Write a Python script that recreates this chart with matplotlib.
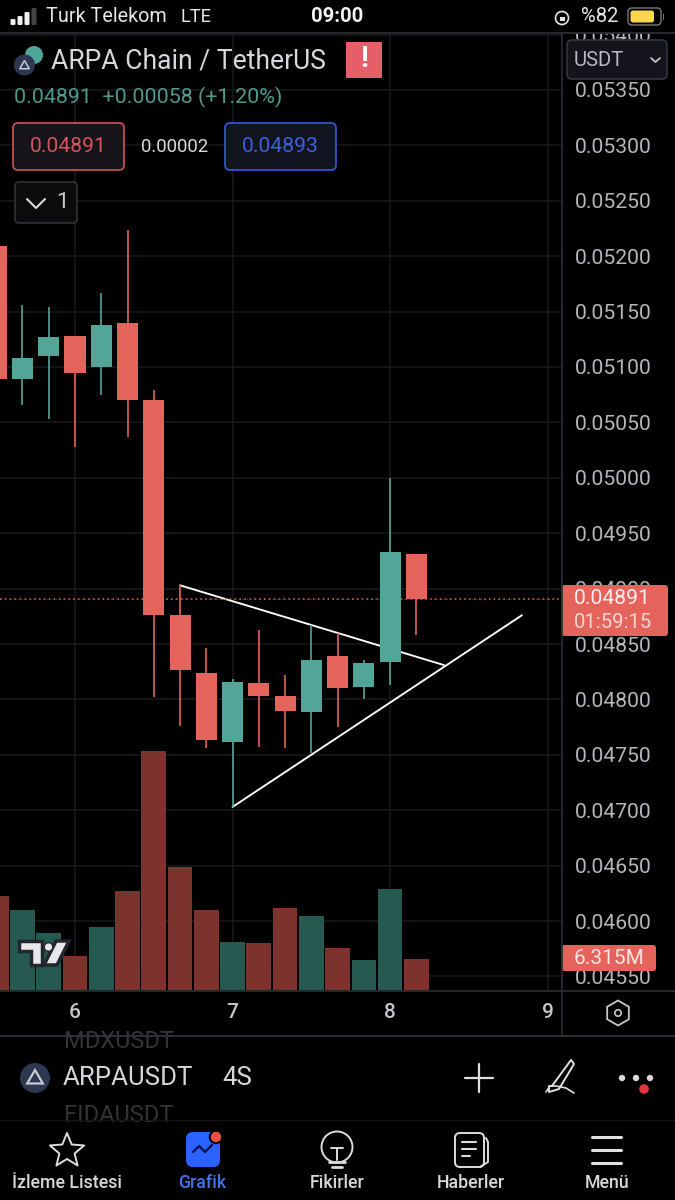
import numpy as np
import matplotlib
matplotlib.use("Agg")
import matplotlib.pyplot as plt
from matplotlib.patches import Rectangle, FancyBboxPatch, Circle, Polygon, RegularPolygon
from matplotlib.lines import Line2D

plt.rcParams['font.family'] = ['Roboto', 'DejaVu Sans']

# ---- data ----
bar_index = list(range(-3, 14))
opens  = [.05209,.05089,.05110,.05128,.05100,.05140,.05070,.04876,.04824,.04762,.04815,.04803,.04789,.04839,.04811,.04834,.04931]
closes = [.05089,.05108,.05127,.05095,.05138,.05070,.04876,.04827,.04763,.04816,.04803,.04790,.04836,.04810,.04833,.04933,.04891]
highs  = [.05209,.05156,.05154,.05128,.05167,.05224,.05079,.04903,.04846,.04818,.04863,.04822,.04867,.04860,.04836,.05000,.04931]
lows   = [.05066,.05066,.05053,.05028,.05075,.05037,.04802,.04776,.04756,.04703,.04757,.04756,.04752,.04775,.04800,.04813,.04858]
volumes_m = [19.1,16.3,11.6,6.9,12.8,20.2,48.7,25.1,16.3,9.8,9.6,16.7,15.1,8.6,6.1,20.6,6.315]
price_ticks = [.0455,.0460,.0465,.0470,.0475,.0480,.0485,.0490,.0495,.0500,.0505,.0510,.0515,.0520,.0525,.0530,.0535,.0540]
time_positions = [0, 6, 12, 18]
time_labels = ['6', '7', '8', '9']
last_price = 0.04891
upper_trend_x, upper_trend_y = [4.0, 14.05], [.04903, .04831]
lower_trend_x, lower_trend_y = [6.0, 17.02], [.04703, .04876]

UP, DOWN = '#52a597', '#e4635b'
VUP, VDOWN = '#265a50', '#7c332e'
GRID = '#17181b'
LINE = '#2b2d33'
TXT = '#b4b6bb'

W, H = 675, 1200
fig = plt.figure(figsize=(6.75, 12), dpi=100, facecolor='black')

def axbox(x0, y0, x1, y1):
    return [x0 / W, 1 - y1 / H, (x1 - x0) / W, (y1 - y0) / H]

# ---- price axes ----
ax = fig.add_axes(axbox(0, 33, 561.5, 990), facecolor='black', zorder=1)
ax.set_xlim(-2.856, 18.526)
ax.set_ylim(.045378, .054014)
ax.set_xticks(time_positions)
ax.set_xticklabels(time_labels, fontsize=15, color='#c4c6ca', fontweight='medium')
ax.set_yticks(price_ticks)
ax.set_yticklabels([f'{p:.5f}' for p in price_ticks], fontsize=15.2, color=TXT)
ax.yaxis.tick_right()
ax.tick_params(axis='y', length=0, pad=9.5)
ax.tick_params(axis='x', length=0, pad=9)
ax.grid(True, color=GRID, lw=1.2)
ax.set_axisbelow(True)
for s in ax.spines.values():
    s.set_visible(False)

ax.plot(upper_trend_x, upper_trend_y, color='white', lw=1.35, zorder=2, solid_capstyle='round')
ax.plot(lower_trend_x, lower_trend_y, color='white', lw=1.35, zorder=2, solid_capstyle='round')
ax.axhline(last_price, color=DOWN, lw=1.1, ls=(0, (1, 2.2)), zorder=2.5)

colors = [UP if c >= o else DOWN for o, c in zip(opens, closes)]
ax.vlines(bar_index, lows, highs, colors=colors, lw=1.2, zorder=3)
ax.bar(bar_index, np.abs(np.array(closes) - np.array(opens)),
       bottom=np.minimum(opens, closes), width=0.8, color=colors, zorder=4)
ax.axhline(last_price, color=DOWN, lw=0.9, ls=(0, (1, 2.4)), alpha=.45, zorder=5)

# ---- volume axes ----
vax = fig.add_axes(axbox(0, 33, 561.5, 990), zorder=2)
vax.patch.set_alpha(0)
vax.set_xlim(ax.get_xlim())
vax.set_ylim(0, 194.9)
vax.axis('off')
vcolors = [VUP if c >= o else VDOWN for o, c in zip(opens, closes)]
vax.bar(bar_index, volumes_m, width=0.94, color=vcolors)

# ---- interface overlay (pixel space) ----
ui = fig.add_axes([0, 0, 1, 1], zorder=5)
ui.set_xlim(0, W)
ui.set_ylim(H, 0)
ui.axis('off')
ui.patch.set_alpha(0)

def T(x, y, s, size, color=TXT, ha='left', **kw):
    return ui.text(x, y, s, fontsize=size, color=color, ha=ha, va='center', **kw)

def rbox(x0, y0, x1, y1, r, fc, ec='none', lw=1.2, z=3):
    p = FancyBboxPatch((x0 + r, y0 + r), x1 - x0 - 2 * r, y1 - y0 - 2 * r,
                       boxstyle=f'round,pad={r},rounding_size={r}', fc=fc, ec=ec, lw=lw, zorder=z)
    ui.add_patch(p)

def L(xs, ys, c='#e6e6e6', lw=1.4, z=6):
    ui.add_line(Line2D(xs, ys, color=c, lw=lw, zorder=z, solid_capstyle='round', solid_joinstyle='round'))

# status bar
ui.add_patch(Rectangle((0, 0), W, 33, fc='black', zorder=2))
L([0, W], [33, 33], LINE, 1.3, 3)
for x, h, c in [(13, 6, '#eee'), (20, 9, '#eee'), (27, 13, '#eee'), (34, 17, '#444')]:
    rbox(x - 2.5, 25 - h, x + 2.5, 25, 1.2, c, z=4)
T(46, 17, 'Turk Telekom', 14.2, '#e6e6e6')
T(181, 17, 'LTE', 13.2, '#e6e6e6')
T(337, 17, '09:00', 14.6, '#f2f2f2', ha='center', fontweight='bold')
ui.add_patch(Circle((562, 18), 6.5, fc='none', ec='#e6e6e6', lw=1.2, zorder=4))
ui.add_patch(Rectangle((559.5, 16.5), 5, 4.5, fc='#e6e6e6', zorder=4))
T(581, 17, '%82', 14.6, '#e6e6e6')
rbox(628, 8, 661, 25, 4, 'none', '#7a7a7a', 1.0, 4)
rbox(630.5, 10.5, 654, 22.5, 2.5, '#fbd74f', z=4)
ui.add_patch(Rectangle((662.5, 14), 1.6, 6, fc='#777', zorder=4))

# header
ui.add_patch(Circle((34, 55), 9, fc='#4fa598', zorder=4))
ui.add_patch(Circle((24.5, 65), 10.5, fc='#2d3750', zorder=5))
ui.add_patch(RegularPolygon((24.5, 66), 3, radius=5.5, orientation=np.pi, fc='none', ec='#c8ccd4', lw=1.1, zorder=6))
T(51, 61, 'ARPA Chain / TetherUS', 19.1, '#d6d8dc')
ui.add_patch(Rectangle((346, 42), 36, 36, fc='#e65f68', zorder=4))
T(364, 59, '!', 21, 'white', ha='center', fontweight='bold', zorder=6)
T(14, 97, '0.04891  +0.00058 (+1.20%)', 15.4, '#4f9a8b')

rbox(13, 123, 124, 170, 5, '#16141a', '#d5525b', 1.2)
T(68.5, 147, '0.04891', 15.2, '#d5525b', ha='center', zorder=6)
T(175, 147, '0.00002', 13.4, '#d8d8d8', ha='center')
rbox(225, 123, 336, 170, 5, '#12141f', '#3559dc', 1.2)
T(280.5, 147, '0.04893', 15.2, '#3a60dc', ha='center', zorder=6)
rbox(15, 182, 77, 223, 4, '#0b0b0d', '#33353c', 1.1)
L([27, 36, 45], [199, 208, 199], '#d8d8d8', 1.5)
T(62, 203, '1', 16, '#c8c8c8', ha='center', zorder=6)
rbox(567, 40, 667, 79, 5, '#14151c', '#34363f', 1.2)
T(574, 61, 'USDT', 14.6, '#b8bac0', zorder=6)
L([651, 655.5, 660], [58, 62, 58], '#d0d0d0', 1.2)

# price tags
rbox(561.5, 585, 668, 636, 3, '#e4635b')
T(574, 599, '0.04891', 15.2, '#fbeeee', zorder=6)
T(574, 622, '01:59:15', 14.6, '#f8d5d2', zorder=6)
rbox(561.5, 945, 656, 971, 3, '#e4635b')
T(574, 958, '6.315M', 15, '#fbe5e3', zorder=6)

# TradingView mark
logo_a = Polygon([(19, 941), (42, 941), (42, 965), (31, 965), (31, 951), (19, 951)], fc='#e8e8ea', ec='#23262e', lw=2.5, zorder=6)
logo_b = Polygon([(56, 941), (69, 941), (57, 965), (44, 965)], fc='#e8e8ea', ec='#23262e', lw=2.5, zorder=6)
ui.add_patch(logo_a)
ui.add_patch(logo_b)
ui.add_patch(Circle((48.5, 947), 4.3, fc='#e8e8ea', ec='#23262e', lw=1, zorder=6))

# axis separators
L([0, W], [990.5, 990.5], LINE, 1.2, 4)
L([561.5, 561.5], [33, 1035], LINE, 1.2, 4)
L([0, W], [1035.6, 1035.6], '#33353c', 1.3, 4)
ui.add_patch(RegularPolygon((618, 1013), 6, radius=12.5, orientation=np.pi / 2 * 0, fc='none', ec='#c8c8c8', lw=1.3, zorder=5))
ui.add_patch(Circle((618, 1013), 3.2, fc='none', ec='#c8c8c8', lw=1.2, zorder=5))

# symbol strip
clip_a = Rectangle((0, 1036), W, 84, transform=ui.transData)
for y, s in [(1041, 'MDXUSDT'), (1116, 'FIDAUSDT')]:
    t = T(64, y, s, 17, '#333436')
    t.set_clip_path(clip_a)
ui.add_patch(Circle((35, 1078), 15, fc='#2d3750', zorder=4))
ui.add_patch(RegularPolygon((35, 1079), 3, radius=9, orientation=np.pi, fc='none', ec='#c8ccd4', lw=1.6, zorder=5))
t = T(63, 1078, 'ARPAUSDT', 18.6, '#d4d6da')
t.set_clip_path(Rectangle((0, 1040), 192, 70, transform=ui.transData))
T(222, 1078, '4S', 18.6, '#d4d6da')
L([465, 493], [1078, 1078], '#e0e0e0', 1.6)
L([479, 479], [1064, 1092], '#e0e0e0', 1.6)
L([552, 571, 574, 559, 549, 549, 552], [1086, 1060, 1064, 1089, 1092, 1086, 1086], '#e0e0e0', 1.4)
L([546, 550, 556, 566, 574], [1092, 1086, 1086, 1088, 1093], '#e0e0e0', 1.2)
for x in (622, 636, 650):
    ui.add_patch(Circle((x, 1078), 3.2, fc='#d8d8d8', zorder=5))
ui.add_patch(Circle((644, 1089), 4.8, fc='#e0353f', zorder=6))

# bottom navigation
L([0, W], [1120, 1120], '#141416', 1, 3)
ang = np.arange(10) * np.pi / 5 - np.pi / 2
rad = np.where(np.arange(10) % 2 == 0, 18, 8)
ui.add_patch(Polygon(np.c_[67 + rad * np.cos(ang), 1151 + rad * np.sin(ang)], fc='none', ec='#dcdcdc', lw=1.4, joinstyle='round', zorder=5))
rbox(186, 1132, 220, 1167, 7, '#2962ff', z=4)
L([193, 199, 205, 212], [1152, 1146, 1152, 1145], '#0b1440', 1.6)
ui.add_patch(Circle((216, 1137), 7.2, fc='black', zorder=5))
ui.add_patch(Circle((216, 1137), 5.2, fc='#e8503f', zorder=6))
ui.add_patch(Circle((337, 1147), 15.5, fc='none', ec='#dcdcdc', lw=1.4, zorder=5))
L([331, 343], [1148, 1148], '#dcdcdc', 1.4)
L([337, 337], [1148, 1160], '#dcdcdc', 1.4)
L([329, 345], [1162, 1162], '#dcdcdc', 2)
L([332, 342], [1167, 1167], '#dcdcdc', 2)
rbox(455, 1133, 484, 1167, 5, 'none', '#dcdcdc', 1.4, 5)
L([486, 488, 488, 480], [1138, 1142, 1162, 1167], '#dcdcdc', 1.4)
for y, x1 in [(1142, 476), (1149, 476), (1156, 470)]:
    L([462, x1], [y, y], '#dcdcdc', 1.5)
for y in (1137, 1150, 1163):
    L([592, 621], [y, y], '#e0e0e0', 2.2)
for x, s, c in [(67, 'İzleme Listesi', '#d8d8d8'), (202, 'Grafik', '#3f74e8'), (337, 'Fikirler', '#d8d8d8'),
                (471, 'Haberler', '#d8d8d8'), (607, 'Menü', '#d8d8d8')]:
    T(x, 1183, s, 12.8, c, ha='center', fontweight='medium')

fig.savefig('out.png', dpi=100, facecolor='black')
